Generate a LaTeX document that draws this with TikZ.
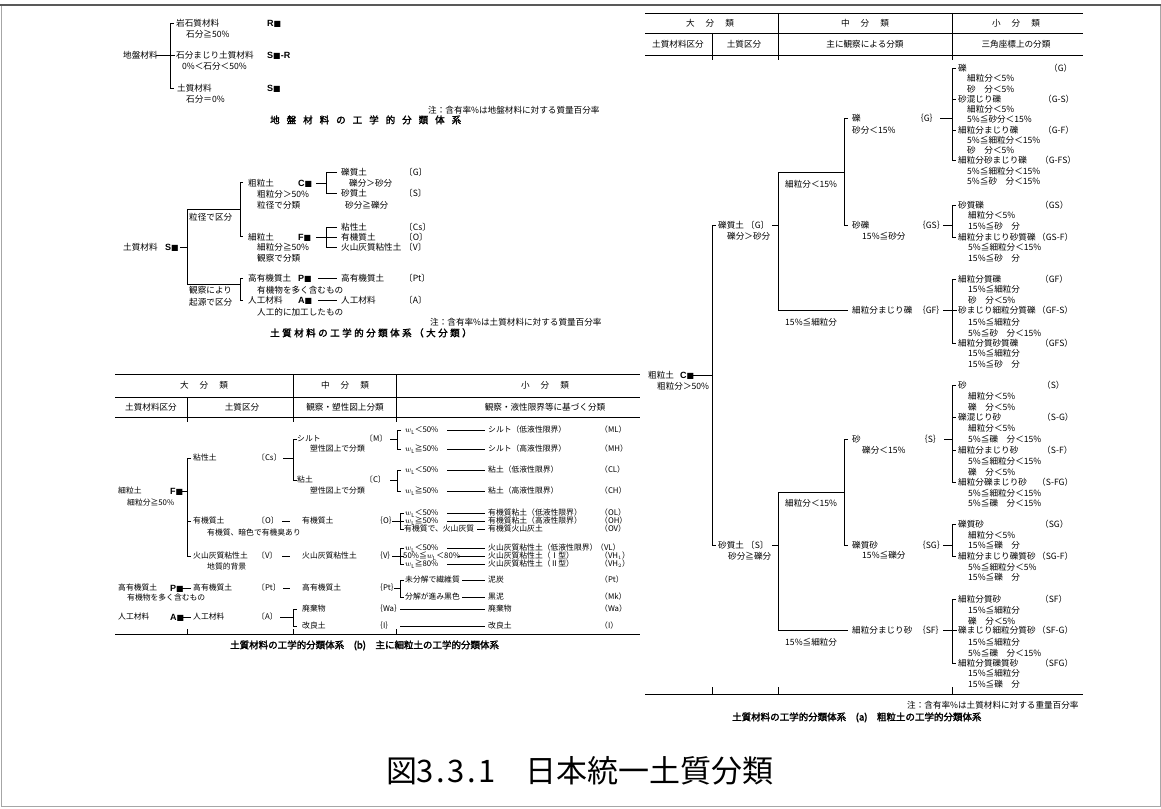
\documentclass[tikz,border=0pt]{standalone}
\usepackage{fontspec}
\setmainfont{Noto Sans CJK JP}
\newfontfamily\jp{Noto Sans CJK JP}
\newfontfamily\jpb[FakeBold=2]{Noto Sans CJK JP}
\newfontfamily\lsb{Liberation Sans}
\newfontfamily\dvs{DejaVu Sans}
\newcommand{\blk}{{\dvs\fontsize{8}{8}\selectfont ■}}
\newcommand{\gA}{\hspace{7pt}}
\newcommand{\gB}{\hspace{2.5pt}}
\newcommand{\gH}{\hspace{11pt}}
\newcommand{\hb}[1]{\makebox[0.5em]{#1}}
\newcommand{\wl}{$w_{\mathrm{L}}$}
\tikzset{
 txt/.style={anchor=west,inner sep=0pt,font=\jp\fontsize{8.6}{10}\selectfont,text height=7.4pt,text depth=1pt},
 stx/.style={anchor=west,inner sep=0pt,font=\jp\fontsize{7.8}{9}\selectfont,text height=6.7pt,text depth=0.9pt},
 hdr/.style={anchor=center,inner sep=0pt,font=\jp\fontsize{8.6}{10}\selectfont,text height=7.4pt,text depth=1pt},
 lbl/.style={anchor=west,inner sep=0pt,font=\lsb\bfseries\fontsize{9}{10}\selectfont,text height=7.4pt,text depth=1pt},
 ttl/.style={anchor=west,inner sep=0pt,font=\jpb\fontsize{9.5}{11}\selectfont,text height=8pt,text depth=1pt},
 ln/.style={line width=0.8pt,black}
}
\begin{document}
\begin{tikzpicture}[x=1pt,y=-1pt]
\useasboundingbox (0,0) rectangle (1161,808);
\fill[white] (0,0) rectangle (1161,808);
\draw[gray!70,line width=0.8pt] (1,5) rectangle (1160,806);
\draw[black!65,line width=2pt] (0,5) -- (1161,5);

% ---------- Section 1 ----------
\node[txt] (s1root) at (123,55) {地盤材料};
\node[txt] (s1r) at (176,23) {岩石質材料};
\node[txt] (s1rs) at (186,34) {石分≧50\%};
\node[txt] (s1sr) at (176,55) {石分まじり土質材料};
\node[txt] (s1srs) at (182,66) {0\%＜石分＜50\%};
\node[txt] (s1s) at (177,88) {土質材料};
\node[txt] (s1ss) at (186,99) {石分＝0\%};
\node[lbl] (s1l1) at (267,23) {R\blk};
\node[lbl] (s1l2) at (267,55) {S\blk-R};
\node[lbl] (s1l3) at (267,88) {S\blk};
\draw[ln] (156,55) -- (175,55);
\draw[ln] (174,23) -- (170,23) -- (170,88) -- (174,88);
\node[txt] (s1note) at (428,110) {注：含有率\%は地盤材料に対する質量百分率};
\node[ttl] (s1title) at (270,120) {地\gA 盤\gA 材\gA 料\gA の\gA 工\gA 学\gA 的\gA 分\gA 類\gA 体\gA 系};

% ---------- Section 2 ----------
\node[txt] (s2root) at (123,247) {土質材料};
\node[lbl] (s2sm) at (165,247) {S\blk};
\draw[ln] (180,247) -- (187,247);
\draw[ln] (240,209) -- (187,209) -- (187,284) -- (240,284);
\draw[ln] (243,182) -- (240,182) -- (240,236) -- (243,236);
\draw[ln] (243,278) -- (240,278) -- (240,300) -- (243,300);
\node[txt] (s2k1) at (189,217) {粒径で区分};
\node[txt] (s2k2) at (189,290) {観察により};
\node[txt] (s2k3) at (189,302) {起源で区分};
\node[txt] (s2c) at (248,183) {粗粒土};
\node[lbl] (s2cm) at (298,183) {C\blk};
\node[txt] (s2c1) at (257,194) {粗粒分＞50\%};
\node[txt] (s2c2) at (257,205) {粒径で分類};
\draw[ln] (316,183) -- (326,183);
\draw[ln] (337,172) -- (326,172) -- (326,193) -- (337,193);
\node[txt] (s2g) at (341,172) {礫質土};
\node[txt] (s2g1) at (349,183) {礫分＞砂分};
\node[txt] (s2gc) at (404,172) {〔G〕};
\node[txt] (s2s) at (341,193) {砂質土};
\node[txt] (s2s1) at (345,205) {砂分≧礫分};
\node[txt] (s2sc) at (404,193) {〔S〕};
\node[txt] (s2f) at (248,237) {細粒土};
\node[lbl] (s2fm) at (298,237) {F\blk};
\node[txt] (s2f1) at (257,247) {細粒分≧50\%};
\node[txt] (s2f2) at (257,258) {観察で分類};
\draw[ln] (316,237) -- (337,237);
\draw[ln] (337,227) -- (326,227) -- (326,247) -- (337,247);
\node[txt] (s2cs) at (341,227) {粘性土};
\node[txt] (s2csc) at (404,227) {〔Cs〕};
\node[txt] (s2o) at (341,237) {有機質土};
\node[txt] (s2oc) at (404,237) {〔O〕};
\node[txt] (s2v) at (341,247) {火山灰質粘性土};
\node[txt] (s2vc) at (404,247) {〔V〕};
\node[txt] (s2p) at (248,278) {高有機質土};
\node[lbl] (s2pm) at (298,278) {P\blk};
\draw[ln] (318,278) -- (337,278);
\node[txt] (s2p2) at (341,278) {高有機質土};
\node[txt] (s2pc) at (404,278) {〔Pt〕};
\node[txt] (s2p1) at (257,290) {有機物を多く含むもの};
\node[txt] (s2a) at (248,300) {人工材料};
\node[lbl] (s2am) at (298,300) {A\blk};
\draw[ln] (318,300) -- (337,300);
\node[txt] (s2a2) at (341,300) {人工材料};
\node[txt] (s2ac) at (404,300) {〔A〕};
\node[txt] (s2a1) at (257,312) {人工的に加工したもの};
\node[txt] (s2note) at (430,322) {注：含有率\%は土質材料に対する質量百分率};
\node[ttl] (s2title) at (270,333) {土\gB 質\gB 材\gB 料\gB の\gB 工\gB 学\gB 的\gB 分\gB 類\gB 体\gB 系\gB （\gB 大\gB 分\gB 類\gB ）};

% ---------- Table (b) ----------
\draw[ln] (115,374) -- (640,374);
\draw[ln] (115,397) -- (640,397);
\draw[ln] (115,417) -- (640,417);
\draw[ln] (293,374) -- (293,422);
\draw[ln] (396,374) -- (396,422);
\draw[ln] (187,397) -- (187,422);
\node[hdr] (bh1) at (204,385) {大\gH 分\gH 類};
\node[hdr] (bh2) at (345,385) {中\gH 分\gH 類};
\node[hdr] (bh3) at (545,385) {小\gH 分\gH 類};
\node[hdr] (bh4) at (151,407) {土質材料区分};
\node[hdr] (bh5) at (242,407) {土質区分};
\node[hdr] (bh6) at (345,407) {観察・塑性図上分類};
\node[hdr] (bh7) at (545,407) {観察・液性限界等に基づく分類};

\node[stx] (bf) at (118,491) {細粒土};
\node[lbl] (bfm) at (170,491) {F\blk};
\node[stx] (bf1) at (127,503) {細粒分≧50\%};
\draw[ln] (182,491) -- (187,491);
\draw[ln] (191,458) -- (187,458) -- (187,556) -- (191,556);
\draw[ln] (187,521) -- (191,521);
\node[stx] (bcs) at (193,458) {粘性土};
\node[stx] (bcsc) at (257,458) {〔Cs〕};
\draw[ln] (283,458) -- (293,458);
\draw[ln] (297,439) -- (293,439) -- (293,480) -- (297,480);
\node[stx] (bm) at (297,439) {シルト};
\node[stx] (bmc) at (365,439) {〔M〕};
\node[stx] (bm1) at (310,449) {塑性図上で分類};
\draw[ln] (390,439) -- (397,439);
\draw[ln] (401,430) -- (397,430) -- (397,449) -- (401,449);
\node[stx] (bml) at (405,430) {\wl＜50\%};
\draw[ln] (447,430) -- (485,430);
\node[stx] (bml2) at (488,430) {シルト（低液性限界）};
\node[stx] (bml3) at (600,430) {（ML）};
\node[stx] (bmh) at (405,449) {\wl≧50\%};
\draw[ln] (447,449) -- (485,449);
\node[stx] (bmh2) at (488,449) {シルト（高液性限界）};
\node[stx] (bmh3) at (600,449) {（MH）};
\node[stx] (bc) at (297,480) {粘土};
\node[stx] (bcc) at (365,480) {〔C〕};
\node[stx] (bc1) at (310,491) {塑性図上で分類};
\draw[ln] (390,480) -- (397,480);
\draw[ln] (401,470) -- (397,470) -- (397,491) -- (401,491);
\node[stx] (bcl) at (405,470) {\wl＜50\%};
\draw[ln] (447,470) -- (485,470);
\node[stx] (bcl2) at (488,470) {粘土（低液性限界）};
\node[stx] (bcl3) at (600,470) {（CL）};
\node[stx] (bch) at (405,491) {\wl≧50\%};
\draw[ln] (447,491) -- (485,491);
\node[stx] (bch2) at (488,491) {粘土（高液性限界）};
\node[stx] (bch3) at (600,491) {（CH）};

\node[stx] (bo) at (193,521) {有機質土};
\node[stx] (boc) at (257,521) {〔O〕};
\node[stx] (bo1) at (207,533) {有機質、暗色で有機臭あり};
\draw[ln] (282,521) -- (290,521);
\node[stx] (bo2) at (302,521) {有機質土};
\node[stx] (bo2c) at (375,521) {｛O｝};
\draw[ln] (392,521) -- (404,521);
\draw[ln] (404,513) -- (400,513) -- (400,529) -- (404,529);
\node[stx] (bol) at (405,513) {\wl＜50\%};
\draw[ln] (447,513) -- (485,513);
\node[stx] (bol2) at (488,513) {有機質粘土（低液性限界）};
\node[stx] (bol3) at (600,513) {（OL）};
\node[stx] (boh) at (405,521) {\wl≧50\%};
\draw[ln] (447,521) -- (485,521);
\node[stx] (boh2) at (488,521) {有機質粘土（高液性限界）};
\node[stx] (boh3) at (600,521) {（OH）};
\node[stx] (bov) at (404,529) {有機質で、火山灰質};
\draw[ln] (477,529) -- (485,529);
\node[stx] (bov2) at (488,529) {有機質火山灰土};
\node[stx] (bov3) at (600,529) {（OV）};

\node[stx] (bv) at (193,556) {火山灰質粘性土};
\node[stx] (bvc) at (257,556) {〔V〕};
\node[stx] (bv1) at (207,567) {地質的背景};
\draw[ln] (282,556) -- (290,556);
\node[stx] (bv2) at (302,556) {火山灰質粘性土};
\node[stx] (bv2c) at (375,556) {｛V｝};
\draw[ln] (392,556) -- (404,556);
\draw[ln] (404,548) -- (400,548) -- (400,564) -- (404,564);
\node[stx] (bvl) at (405,548) {\wl＜50\%};
\draw[ln] (447,548) -- (485,548);
\node[stx] (bvl2) at (488,548) {火山灰質粘性土（低液性限界）};
\node[stx] (bvl3) at (596,548) {（VL）};
\node[stx] (bvh) at (403,556) {50\%≦\wl＜80\%};
\draw[ln] (458,556) -- (485,556);
\node[stx] (bvh2) at (488,556) {火山灰質粘性土（Ⅰ型）};
\node[stx] (bvh3) at (600,556) {（VH$_1$）};
\node[stx] (bvk) at (405,564) {\wl≧80\%};
\draw[ln] (447,564) -- (485,564);
\node[stx] (bvk2) at (488,564) {火山灰質粘性土（Ⅱ型）};
\node[stx] (bvk3) at (600,564) {（VH$_2$）};

\node[stx] (bp) at (118,588) {高有機質土};
\node[lbl] (bpm) at (170,588) {P\blk};
\node[stx] (bp1) at (127,598) {有機物を多く含むもの};
\draw[ln] (182,588) -- (191,588);
\node[stx] (bp2) at (193,588) {高有機質土};
\node[stx] (bpc) at (257,588) {〔Pt〕};
\draw[ln] (283,588) -- (290,588);
\node[stx] (bp3) at (302,588) {高有機質土};
\node[stx] (bp3c) at (375,588) {｛Pt｝};
\draw[ln] (394,588) -- (400,588);
\draw[ln] (404,580) -- (400,580) -- (400,597) -- (404,597);
\node[stx] (bpt) at (405,580) {未分解で繊維質};
\draw[ln] (462,580) -- (485,580);
\node[stx] (bpt2) at (488,580) {泥炭};
\node[stx] (bpt3) at (600,580) {（Pt）};
\node[stx] (bmk) at (405,597) {分解が進み黒色};
\draw[ln] (462,597) -- (485,597);
\node[stx] (bmk2) at (488,597) {黒泥};
\node[stx] (bmk3) at (600,597) {（Mk）};

\node[stx] (ba) at (118,617) {人工材料};
\node[lbl] (bam) at (170,617) {A\blk};
\draw[ln] (182,617) -- (191,617);
\node[stx] (ba2) at (193,617) {人工材料};
\node[stx] (bac) at (257,617) {〔A〕};
\draw[ln] (280,617) -- (293,617);
\draw[ln] (297,609) -- (293,609) -- (293,626) -- (297,626);
\node[stx] (bwa) at (302,609) {廃棄物};
\node[stx] (bwac) at (375,609) {｛Wa｝};
\draw[ln] (400,609) -- (485,609);
\node[stx] (bwa2) at (488,609) {廃棄物};
\node[stx] (bwa3) at (600,609) {（Wa）};
\node[stx] (bi) at (302,626) {改良土};
\node[stx] (bic) at (375,626) {｛I｝};
\draw[ln] (400,626) -- (485,626);
\node[stx] (bi2) at (488,626) {改良土};
\node[stx] (bi3) at (600,626) {（I）};

\draw[ln] (115,634) -- (640,634);
\draw[ln] (187,629) -- (187,634);
\draw[ln] (293,629) -- (293,634);
\draw[ln] (396,629) -- (396,634);
\node[ttl] (btitle) at (230,645) {土質材料の工学的分類体系　(b)　主に細粒土の工学的分類体系};

% ---------- Table (a) ----------
\draw[ln] (645,13) -- (1083,13);
\draw[ln] (645,33) -- (1083,33);
\draw[ln] (645,55) -- (1083,55);
\draw[ln] (778,13) -- (778,60);
\draw[ln] (952,13) -- (952,60);
\draw[ln] (712,33) -- (712,60);
\node[hdr] (ah1) at (710,23) {大\gH 分\gH 類};
\node[hdr] (ah2) at (865,23) {中\gH 分\gH 類};
\node[hdr] (ah3) at (1016,23) {小\gH 分\gH 類};
\node[hdr] (ah4) at (678,44) {土質材料区分};
\node[hdr] (ah5) at (744,44) {土質区分};
\node[hdr] (ah6) at (865,44) {主に観察による分類};
\node[hdr] (ah7) at (1016,44) {三角座標上の分類};

\node[txt] (ac) at (648,375) {粗粒土};
\node[lbl] (acm) at (680,375) {C\blk};
\node[txt] (ac1) at (657,386) {粗粒分＞50\%};
\draw[ln] (692,375) -- (712,375);
\draw[ln] (716,225) -- (712,225) -- (712,545) -- (716,545);

\node[txt] (ag) at (718,225) {礫質土};
\node[txt] (agc) at (746,225) {〔G〕};
\node[txt] (ag1) at (727,236) {礫分＞砂分};
\draw[ln] (772,225) -- (778,225);
\draw[ln] (844,172) -- (778,172) -- (778,310) -- (848,310);
\node[txt] (agf1) at (785,184) {細粒分＜15\%};
\node[txt] (agf2) at (785,322) {15\%≦細粒分};
\draw[ln] (848,118) -- (844,118) -- (844,225) -- (848,225);
\node[txt] (agg) at (852,118) {礫};
\node[txt] (aggc) at (915,118) {｛G｝};
\node[txt] (agg1) at (852,130) {砂分＜15\%};
\draw[ln] (940,118) -- (952,118);
\node[txt] (ags) at (852,225) {砂礫};
\node[txt] (agsc) at (917,225) {｛GS｝};
\node[txt] (ags1) at (862,236) {15\%≦砂分};
\draw[ln] (943,225) -- (952,225);
\node[txt] (agf) at (852,310) {細粒分まじり礫};
\node[txt] (agfc) at (917,310) {｛GF｝};
\draw[ln] (943,310) -- (957,310);

% G group
\draw[ln] (956,68) -- (952,68) -- (952,160) -- (956,160);
\draw[ln] (952,99) -- (956,99);
\draw[ln] (952,130) -- (956,130);
\node[txt] (g1) at (958,68) {礫};
\node[txt] (g1c) at (1049,68) {（G）};
\node[txt] (g1a) at (967,78) {細粒分＜5\%};
\node[txt] (g1b) at (967,89) {砂　分＜5\%};
\node[txt] (g2) at (958,99) {砂混じり礫};
\node[txt] (g2c) at (1043,99) {（G-S）};
\node[txt] (g2a) at (967,109) {細粒分＜5\%};
\node[txt] (g2b) at (967,119) {5\%≦砂分＜15\%};
\node[txt] (g3) at (958,130) {細粒分まじり礫};
\node[txt] (g3c) at (1043,130) {（G-F）};
\node[txt] (g3a) at (967,140) {5\%≦細粒分＜15\%};
\node[txt] (g3b) at (967,150) {砂　分＜5\%};
\node[txt] (g4) at (958,160) {細粒分砂まじり礫};
\node[txt] (g4c) at (1040,160) {（G-FS）};
\node[txt] (g4a) at (967,171) {5\%≦細粒分＜15\%};
\node[txt] (g4b) at (967,181) {5\%≦砂　分＜15\%};

% GS group
\draw[ln] (956,205) -- (952,205) -- (952,237) -- (956,237);
\node[txt] (gs1) at (958,205) {砂質礫};
\node[txt] (gs1c) at (1040,205) {（GS）};
\node[txt] (gs1a) at (968,215) {細粒分＜5\%};
\node[txt] (gs1b) at (968,226) {15\%≦砂　分};
\node[txt] (gs2) at (958,237) {細粒分まじり砂質礫};
\node[txt] (gs2c) at (1037,237) {（GS-F）};
\node[txt] (gs2a) at (968,247) {5\%≦細粒分＜15\%};
\node[txt] (gs2b) at (968,258) {15\%≦砂　分};

% GF group
\draw[ln] (956,279) -- (952,279) -- (952,343) -- (956,343);
\node[txt] (gf1) at (958,279) {細粒分質礫};
\node[txt] (gf1c) at (1040,279) {（GF）};
\node[txt] (gf1a) at (968,289) {15\%≦細粒分};
\node[txt] (gf1b) at (968,300) {砂　分＜5\%};
\node[txt] (gf2) at (958,310) {砂まじり細粒分質礫};
\node[txt] (gf2c) at (1037,310) {（GF-S）};
\node[txt] (gf2a) at (968,322) {15\%≦細粒分};
\node[txt] (gf2b) at (968,333) {5\%≦砂　分＜15\%};
\node[txt] (gf3) at (958,343) {細粒分質砂質礫};
\node[txt] (gf3c) at (1040,343) {（GFS）};
\node[txt] (gf3a) at (968,353) {15\%≦細粒分};
\node[txt] (gf3b) at (968,364) {15\%≦砂　分};

% Sand
\node[txt] (as) at (718,545) {砂質土};
\node[txt] (asc) at (746,545) {〔S〕};
\node[txt] (as1) at (728,556) {砂分≧礫分};
\draw[ln] (772,545) -- (778,545);
\draw[ln] (844,492) -- (778,492) -- (778,630) -- (848,630);
\node[txt] (asf1) at (785,503) {細粒分＜15\%};
\node[txt] (asf2) at (785,642) {15\%≦細粒分};
\draw[ln] (848,439) -- (844,439) -- (844,545) -- (848,545);
\node[txt] (ass) at (852,439) {砂};
\node[txt] (assc) at (919,439) {｛S｝};
\node[txt] (ass1) at (862,450) {礫分＜15\%};
\draw[ln] (944,439) -- (952,439);
\node[txt] (asg) at (852,545) {礫質砂};
\node[txt] (asgc) at (917,545) {｛SG｝};
\node[txt] (asg1) at (862,555) {15\%≦礫分};
\draw[ln] (943,545) -- (952,545);
\node[txt] (asf) at (852,630) {細粒分まじり砂};
\node[txt] (asfc) at (917,630) {｛SF｝};
\draw[ln] (943,630) -- (957,630);

% S group
\draw[ln] (956,385) -- (952,385) -- (952,482) -- (956,482);
\draw[ln] (952,417) -- (956,417);
\draw[ln] (952,450) -- (956,450);
\node[txt] (q1) at (958,385) {砂};
\node[txt] (q1c) at (1042,385) {（S）};
\node[txt] (q1a) at (968,396) {細粒分＜5\%};
\node[txt] (q1b) at (968,407) {礫　分＜5\%};
\node[txt] (q2) at (958,417) {礫混じり砂};
\node[txt] (q2c) at (1042,417) {（S-G）};
\node[txt] (q2a) at (968,428) {細粒分＜5\%};
\node[txt] (q2b) at (968,439) {5\%≦礫　分＜15\%};
\node[txt] (q3) at (958,450) {細粒分まじり砂};
\node[txt] (q3c) at (1042,450) {（S-F）};
\node[txt] (q3a) at (968,461) {5\%≦細粒分＜15\%};
\node[txt] (q3b) at (968,472) {礫　分＜5\%};
\node[txt] (q4) at (958,482) {細粒分礫まじり砂};
\node[txt] (q4c) at (1037,482) {（S-FG）};
\node[txt] (q4a) at (968,493) {5\%≦細粒分＜15\%};
\node[txt] (q4b) at (968,503) {5\%≦礫　分＜15\%};

% SG group
\draw[ln] (956,524) -- (952,524) -- (952,556) -- (956,556);
\node[txt] (r1) at (958,524) {礫質砂};
\node[txt] (r1c) at (1040,524) {（SG）};
\node[txt] (r1a) at (968,535) {細粒分＜5\%};
\node[txt] (r1b) at (968,545) {15\%≦礫　分};
\node[txt] (r2) at (958,556) {細粒分まじり礫質砂};
\node[txt] (r2c) at (1037,556) {（SG-F）};
\node[txt] (r2a) at (968,567) {5\%≦細粒分＜5\%};
\node[txt] (r2b) at (968,577) {15\%≦礫　分};

% SF group
\draw[ln] (956,599) -- (952,599) -- (952,663) -- (956,663);
\node[txt] (p1) at (958,599) {細粒分質砂};
\node[txt] (p1c) at (1040,599) {（SF）};
\node[txt] (p1a) at (968,610) {15\%≦細粒分};
\node[txt] (p1b) at (968,621) {礫　分＜5\%};
\node[txt] (p2) at (958,630) {礫まじり細粒分質砂};
\node[txt] (p2c) at (1037,630) {（SF-G）};
\node[txt] (p2a) at (968,642) {15\%≦細粒分};
\node[txt] (p2b) at (968,653) {5\%≦礫　分＜15\%};
\node[txt] (p3) at (958,663) {細粒分質礫質砂};
\node[txt] (p3c) at (1040,663) {（SFG）};
\node[txt] (p3a) at (968,673) {15\%≦細粒分};
\node[txt] (p3b) at (968,684) {15\%≦礫　分};

\draw[ln] (645,694) -- (1083,694);
\draw[ln] (712,687) -- (712,694);
\draw[ln] (778,687) -- (778,694);
\draw[ln] (952,687) -- (952,694);
\node[txt] (anote) at (907,705) {注：含有率\%は土質材料に対する重量百分率};
\node[ttl] (atitle) at (732,717) {土質材料の工学的分類体系　(a)　粗粒土の工学的分類体系};

% ---------- Caption ----------
\node[anchor=center,inner sep=0pt,font=\jp\fontsize{31}{34}\selectfont] (cap) at (580,771) {図\hb{3}\hb{.}\hb{3}\hb{.}\hb{1}　日本統一土質分類};
\end{tikzpicture}
\end{document}
